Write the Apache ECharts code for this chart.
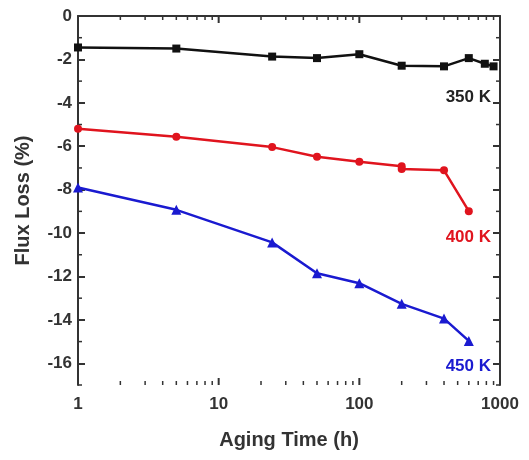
<!DOCTYPE html>
<html>
<head>
<meta charset="utf-8">
<script src="https://cdn.jsdelivr.net/npm/echarts@6/dist/echarts.min.js"></script>
<style>
html,body{margin:0;padding:0;background:#fff;}
#main{width:529px;height:460px;}
</style>
</head>
<body>
<div id="main"></div>
<script>
// aging time (h) and flux loss (%)
var t350 = [1, 5, 24, 50, 100, 200, 400, 600, 780, 900];
var loss350 = [-1.45, -1.5, -1.87, -1.94, -1.76, -2.29, -2.32, -1.94, -2.2, -2.32];
var t400 = [1, 5, 24, 50, 100, 200, 200, 400, 600];
var loss400 = [-5.2, -5.56, -6.04, -6.48, -6.71, -6.92, -7.05, -7.11, -8.99];
var t450 = [1, 5, 24, 50, 100, 200, 400, 600];
var loss450 = [-7.9, -8.93, -10.43, -11.85, -12.31, -13.26, -13.94, -14.97];

var yTicks = [0, -2, -4, -6, -8, -10, -12, -14, -16];
var xMajor = [1, 10, 100, 1000];
var xMinor = [2,3,4,5,6,7,8,9,20,30,40,50,60,70,80,90,200,300,400,500,600,700,800,900];
var yMinor = [-1, -3, -5, -7, -9, -11, -13, -15, -17];

function pairs(xs, ys){
    return xs.map(function(v,i){ return [v, ys[i]]; });
}

var axisCol = '#333';
var labelStyle = {color:'#333', fontSize:17, fontWeight:'bold', fontFamily:'Liberation Sans, Arial'};
var nameStyle = {color:'#333', fontSize:20, fontWeight:'bold', fontFamily:'Liberation Sans, Arial'};

var chart = echarts.init(document.getElementById('main'));
var option = {
    animation:false,
    grid:{left:78, right:29, top:16, bottom:75},
    xAxis:{
        type:'log', min:1, max:1000, logBase:10,
        axisLine:{lineStyle:{color:axisCol, width:2}},
        axisTick:{show:false},
        axisLabel:Object.assign({margin:11, formatter:function(v){ return String(v); }}, labelStyle),
        splitLine:{show:false},
        name:'Aging Time (h)', nameLocation:'middle', nameGap:45,
        nameTextStyle:nameStyle
    },
    yAxis:[{
        type:'value', min:-17, max:0, interval:1,
        axisLine:{lineStyle:{color:axisCol, width:2}},
        axisTick:{inside:true, length:7, customValues:yTicks, lineStyle:{color:axisCol, width:2}},
        axisLabel:Object.assign({margin:6, customValues:yTicks}, labelStyle),
        splitLine:{show:false},
        name:'Flux Loss (%)', nameLocation:'middle', nameGap:45, nameRotate:90,
        nameTextStyle:nameStyle
    },{
        type:'value', min:-17, max:0, interval:1, position:'right',
        axisLine:{show:true, lineStyle:{color:axisCol, width:2}},
        axisTick:{show:true, inside:true, length:7, customValues:yTicks, lineStyle:{color:axisCol, width:2}},
        axisLabel:{show:false},
        splitLine:{show:false}
    }],
    series:[{
        name:'350 K', type:'line', data:pairs(t350, loss350),
        symbol:'rect', symbolSize:8,
        lineStyle:{color:'#111', width:2.5}, itemStyle:{color:'#111'}
    },{
        name:'400 K', type:'line', data:pairs(t400, loss400),
        symbol:'circle', symbolSize:8,
        lineStyle:{color:'#e0141e', width:2.5}, itemStyle:{color:'#e0141e'}
    },{
        name:'450 K', type:'line', data:pairs(t450, loss450),
        symbol:'triangle', symbolSize:10,
        lineStyle:{color:'#1a1ad0', width:2.5}, itemStyle:{color:'#1a1ad0'}
    }]
};
chart.setOption(option);

// frame, log ticks, minor ticks and series labels
var g = [];
var yTop = chart.convertToPixel({yAxisIndex:0}, 0);
var yBot = chart.convertToPixel({yAxisIndex:0}, -17);
var xL = chart.convertToPixel({xAxisIndex:0}, 1);
var xR = chart.convertToPixel({xAxisIndex:0}, 1000);
g.push({type:'line', shape:{x1:xL, y1:yTop, x2:xR, y2:yTop}, style:{stroke:axisCol, lineWidth:2}});
function xTick(v, len, w){
    var x = chart.convertToPixel({xAxisIndex:0}, v);
    g.push({type:'line', shape:{x1:x, y1:yBot, x2:x, y2:yBot-len}, style:{stroke:axisCol, lineWidth:w}});
    g.push({type:'line', shape:{x1:x, y1:yTop, x2:x, y2:yTop+len}, style:{stroke:axisCol, lineWidth:w}});
}
xMajor.forEach(function(v){ xTick(v, 7, 2); });
xMinor.forEach(function(v){ xTick(v, 4, 1.5); });
yMinor.forEach(function(v){
    var y = chart.convertToPixel({yAxisIndex:0}, v);
    g.push({type:'line', shape:{x1:xL, y1:y, x2:xL+4, y2:y}, style:{stroke:axisCol, lineWidth:1.5}});
    g.push({type:'line', shape:{x1:xR, y1:y, x2:xR-4, y2:y}, style:{stroke:axisCol, lineWidth:1.5}});
});
var tags = [['350 K', -3.75, '#222'], ['400 K', -10.2, '#e0141e'], ['450 K', -16.15, '#1a1ad0']];
tags.forEach(function(d){
    var y = chart.convertToPixel({yAxisIndex:0}, d[1]);
    g.push({type:'text', x:xR-9, y:y, style:{text:d[0], fill:d[2], font:'bold 17px Liberation Sans, Arial', align:'right', verticalAlign:'middle'}});
});
chart.setOption({graphic:g});
</script>
</body>
</html>
